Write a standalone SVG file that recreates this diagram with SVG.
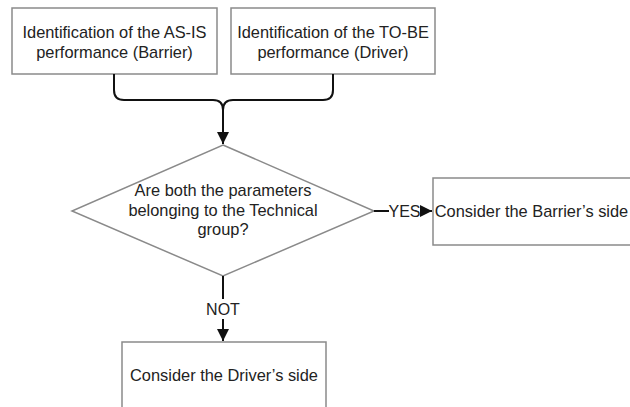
<svg xmlns="http://www.w3.org/2000/svg" width="630" height="407" viewBox="0 0 630 407">
<defs>
<style>
.box{fill:#fff;stroke:#8a8a8a;stroke-width:1.5}
.t{font-family:"Liberation Sans",Arial,sans-serif;font-size:16.4px;fill:#222;text-anchor:middle}
.c{fill:none;stroke:#111;stroke-width:2}
.lbl{font-family:"Liberation Sans",Arial,sans-serif;font-size:16px;fill:#222;text-anchor:middle}
</style>
<marker id="ah" viewBox="0 0 10 10" refX="10" refY="5" markerWidth="6" markerHeight="6" markerUnits="strokeWidth" orient="auto">
<path d="M0,0 L10,5 L0,10 z" fill="#111"/>
</marker>
</defs>
<rect width="630" height="407" fill="#fff"/>
<g id="asis">
<rect class="box" x="12" y="8" width="205" height="66"/>
<text class="t" x="114.5" y="38">Identification of the AS-IS</text>
<text class="t" x="114.5" y="58">performance (Barrier)</text>
</g>
<g id="tobe">
<rect class="box" x="231" y="8" width="204" height="66"/>
<text class="t" x="333" y="38">Identification of the TO-BE</text>
<text class="t" x="333" y="58">performance (Driver)</text>
</g>
<g id="decision">
<polygon class="box" points="223,145 374,211 223,276 72,211"/>
<text class="t" x="223" y="196">Are both the parameters</text>
<text class="t" x="223" y="215.5">belonging to the Technical</text>
<text class="t" x="223" y="235">group?</text>
</g>
<g id="barrier">
<rect class="box" x="433" y="178" width="204" height="67"/>
<text class="t" x="531.5" y="217">Consider the Barrier’s side</text>
</g>
<g id="driver">
<rect class="box" x="122" y="342" width="204" height="80"/>
<text class="t" x="224" y="381">Consider the Driver’s side</text>
</g>
<g id="connectors">
<path class="c" d="M114,74 V90 Q114,100 124,100 H213 Q223,100 223,110"/>
<path class="c" d="M333,74 V90 Q333,100 323,100 H233 Q223,100 223,110"/>
<path class="c" d="M223,108 V144" marker-end="url(#ah)"/>
<path class="c" d="M374,211 H432" marker-end="url(#ah)"/>
<rect x="389" y="202" width="31" height="18" fill="#fff"/>
<text class="lbl" x="404.5" y="217">YES</text>
<path class="c" d="M223,276 V341" marker-end="url(#ah)"/>
<rect x="206" y="299" width="34" height="20" fill="#fff"/>
<text class="lbl" x="223" y="315">NOT</text>
</g>
</svg>
